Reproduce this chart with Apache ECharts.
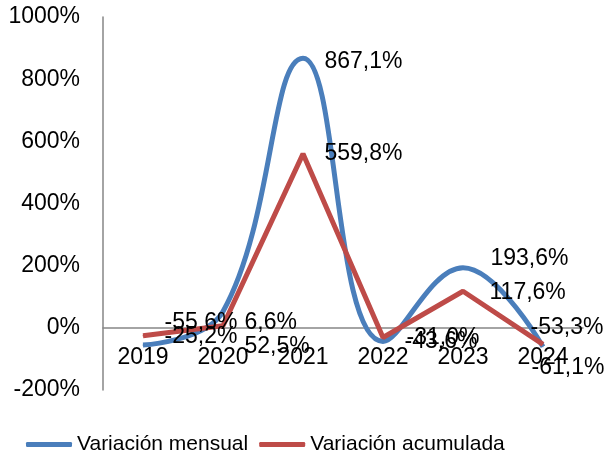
<!DOCTYPE html>
<html>
<head>
<meta charset="utf-8">
<script src="https://cdn.jsdelivr.net/npm/echarts@6/dist/echarts.min.js"></script>
<style>
  html, body { margin: 0; padding: 0; background: #fff; }
  #chart { width: 605px; height: 452px; }
</style>
</head>
<body>
<div id="chart"></div>
<script>
var years = ['2019', '2020', '2021', '2022', '2023', '2024'];
var mensual = [-55.6, 52.5, 867.1, -43.6, 193.6, -61.1];
var acumulada = [-25.2, 6.6, 559.8, -31.0, 117.6, -53.3];
var yTicks = [-200, 0, 200, 400, 600, 800, 1000];

// desplazamiento de etiquetas (como en el original de Excel)
var offMensual = [[0, -22], [0, 35], [0, 3], [0, 0], [6, -9], [-33, 21]];
var offAcumulada = [[0, 1], [0, -3], [0, 0], [2, 0], [5, 1], [-34, -17]];

function fmt(v) {
    return v.toFixed(1).replace('.', ',') + '%';
}
function items(vals, offs) {
    return vals.map(function (v, i) {
        return { value: v, label: { offset: offs[i] } };
    });
}

var myChart = echarts.init(document.getElementById('chart'));
var font = 'Liberation Sans, Arial, sans-serif';
var option = {
    backgroundColor: '#fff',
    animation: false,
    textStyle: { fontFamily: font },
    grid: {
        left: 103,
        right: 22,
        top: 17,
        bottom: 62,
        containLabel: false
    },
    legend: {
        top: 429,
        left: 21,
        itemWidth: 46,
        itemHeight: 5,
        itemGap: 11,
        icon: 'roundRect',
        textStyle: { color: '#000', fontSize: 21, fontFamily: font },
        data: ['Variación mensual', 'Variación acumulada']
    },
    xAxis: [{
        type: 'category',
        data: years,
        boundaryGap: true,
        axisLine: { show: true, onZero: true, lineStyle: { color: '#868686', width: 1.5 } },
        axisTick: { show: false },
        axisLabel: {
            interval: 0,
            margin: -44,
            color: '#000',
            fontSize: 23,
            fontFamily: font
        }
    }],
    yAxis: [{
        type: 'value',
        min: yTicks[0],
        max: yTicks[yTicks.length - 1],
        interval: 200,
        axisLine: { show: true, lineStyle: { color: '#868686', width: 1.5 } },
        axisTick: { show: false },
        splitLine: { show: false },
        axisLabel: {
            margin: 23,
            color: '#000',
            fontSize: 23,
            fontFamily: font,
            formatter: function (v) { return v + '%'; }
        }
    }],
    series: [{
        name: 'Variación mensual',
        type: 'line',
        smooth: 0.42,
        data: items(mensual, offMensual),
        symbol: 'circle',
        symbolSize: 1,
        showSymbol: true,
        lineStyle: { color: '#4A7EBB', width: 5 },
        itemStyle: { color: '#4A7EBB' },
        label: {
            show: true,
            position: 'right',
            distance: 21,
            color: '#000',
            fontSize: 23,
            fontFamily: font,
            formatter: function (p) { return fmt(p.value); }
        }
    }, {
        name: 'Variación acumulada',
        type: 'line',
        data: items(acumulada, offAcumulada),
        symbol: 'circle',
        symbolSize: 1,
        showSymbol: true,
        lineStyle: { color: '#BE4B48', width: 5 },
        itemStyle: { color: '#BE4B48' },
        label: {
            show: true,
            position: 'right',
            distance: 21,
            color: '#000',
            fontSize: 23,
            fontFamily: font,
            formatter: function (p) { return fmt(p.value); }
        }
    }]
};
myChart.setOption(option);
window.addEventListener('resize', function () {
    myChart.resize();
});
</script>
</body>
</html>
